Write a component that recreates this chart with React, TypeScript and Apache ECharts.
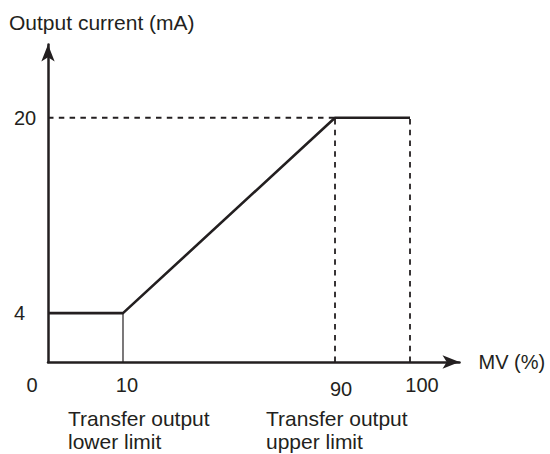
import React, { useEffect, useRef } from 'react';
import * as echarts from 'echarts';

// ---- data ----
const mvTicks = [0, 10, 90, 100];
const mvTickLabels = ['0', '10', '90', '100'];
const currentTicks = [4, 20];
const currentTickLabels = ['4', '20'];
const outputCurve = [[0, 4], [10, 4], [90, 20], [100, 20]];
const lowerLimitGuide = [[10, 0], [10, 4]];
const upperLevelGuide = [[0, 20], [90, 20]];
const upperLimitGuide = [[90, 0], [90, 20]];
const fullScaleGuide = [[100, 0], [100, 20]];
const xAxisName = 'MV (%)';
const yAxisName = 'Output current (mA)';
const limitNotes = ['Transfer output\nlower limit', 'Transfer output\nupper limit'];

const INK = '#231f20';
const FONT = '"Liberation Sans", Arial, Helvetica, sans-serif';

export default function App() {
  const ref = useRef<HTMLDivElement>(null);
  useEffect(() => {
    if (!ref.current) return;
    const chart = echarts.init(ref.current, undefined, { renderer: 'svg' });
    const rich: any = {};
    const pads = [[0, 32, 0, 0], [0, 0, 0, 8], [4, 0, 0, 12], [0, 0, 0, 24]];
    mvTicks.forEach((_, i) => {
      rich['m' + i] = { fontSize: 20, color: INK, fontFamily: FONT, padding: pads[i] };
    });
    const guide = (data: number[][], dashed: boolean, width: number) => ({
      type: 'line',
      data,
      symbol: 'none',
      silent: true,
      lineStyle: { color: INK, width, type: dashed ? [5.5, 5.3] : 'solid' },
      z: 2,
    });
    const arrowLine = {
      show: true,
      onZero: false,
      symbol: ['none', 'arrow'],
      symbolSize: [10, 17],
      lineStyle: { color: INK, width: 2.5 },
    };
    chart.setOption({
      animation: false,
      backgroundColor: '#ffffff',
      textStyle: { fontFamily: FONT },
      grid: { left: 48, top: 44.5, width: 411.5, height: 317.5, outerBoundsMode: 'none' },
      xAxis: [
        {
          type: 'value',
          min: 0,
          max: 106.6,
          position: 'bottom',
          breaks: [{ start: 20, end: 80, gap: 8.27 }],
          breakArea: { show: false, itemStyle: { opacity: 0, borderWidth: 0 } },
          axisLine: { show: false },
          axisTick: { show: false },
          splitLine: { show: false },
          axisLabel: {
            customValues: mvTicks,
            margin: 13,
            fontSize: 20,
            color: INK,
            formatter: (v: number) => {
              const i = mvTicks.indexOf(v);
              return i < 0 ? '' : `{m${i}|${mvTickLabels[i]}}`;
            },
            rich,
          },
        },
        {
          type: 'value',
          min: 0,
          max: 1,
          position: 'bottom',
          axisLine: arrowLine,
          axisTick: { show: false },
          splitLine: { show: false },
          axisLabel: { show: false },
          name: xAxisName,
          nameLocation: 'end',
          nameGap: 19,
          nameTextStyle: { fontSize: 20, color: INK, fontFamily: FONT },
        },
      ],
      yAxis: {
        type: 'value',
        min: 0,
        max: 26,
        axisLine: arrowLine,
        axisTick: { show: false },
        splitLine: { show: false },
        axisLabel: {
          customValues: currentTicks,
          align: 'left',
          margin: 34,
          fontSize: 20,
          color: INK,
          formatter: (v: number) => currentTickLabels[currentTicks.indexOf(v)] ?? '',
        },
      },
      graphic: [
        { type: 'text', left: 9, top: 12, style: { text: yAxisName, fontSize: 21, fill: INK, fontFamily: FONT } },
        { type: 'text', left: 68, top: 407, style: { text: limitNotes[0], fontSize: 21, lineHeight: 23, fill: INK, fontFamily: FONT } },
        { type: 'text', left: 266, top: 407, style: { text: limitNotes[1], fontSize: 21, lineHeight: 23, fill: INK, fontFamily: FONT } },
      ],
      series: [
        guide(upperLevelGuide, true, 1.8),
        guide(upperLimitGuide, true, 1.8),
        guide(fullScaleGuide, true, 1.8),
        guide(lowerLimitGuide, false, 1.2),
        {
          type: 'line',
          data: outputCurve,
          symbol: 'none',
          silent: true,
          lineStyle: { color: INK, width: 2.6 },
          z: 3,
        },
      ],
    });
    return () => chart.dispose();
  }, []);
  return (
    <div
      ref={ref}
      style={{ position: 'fixed', left: 0, top: 0, width: 550, height: 454, background: '#fff' }}
    />
  );
}
